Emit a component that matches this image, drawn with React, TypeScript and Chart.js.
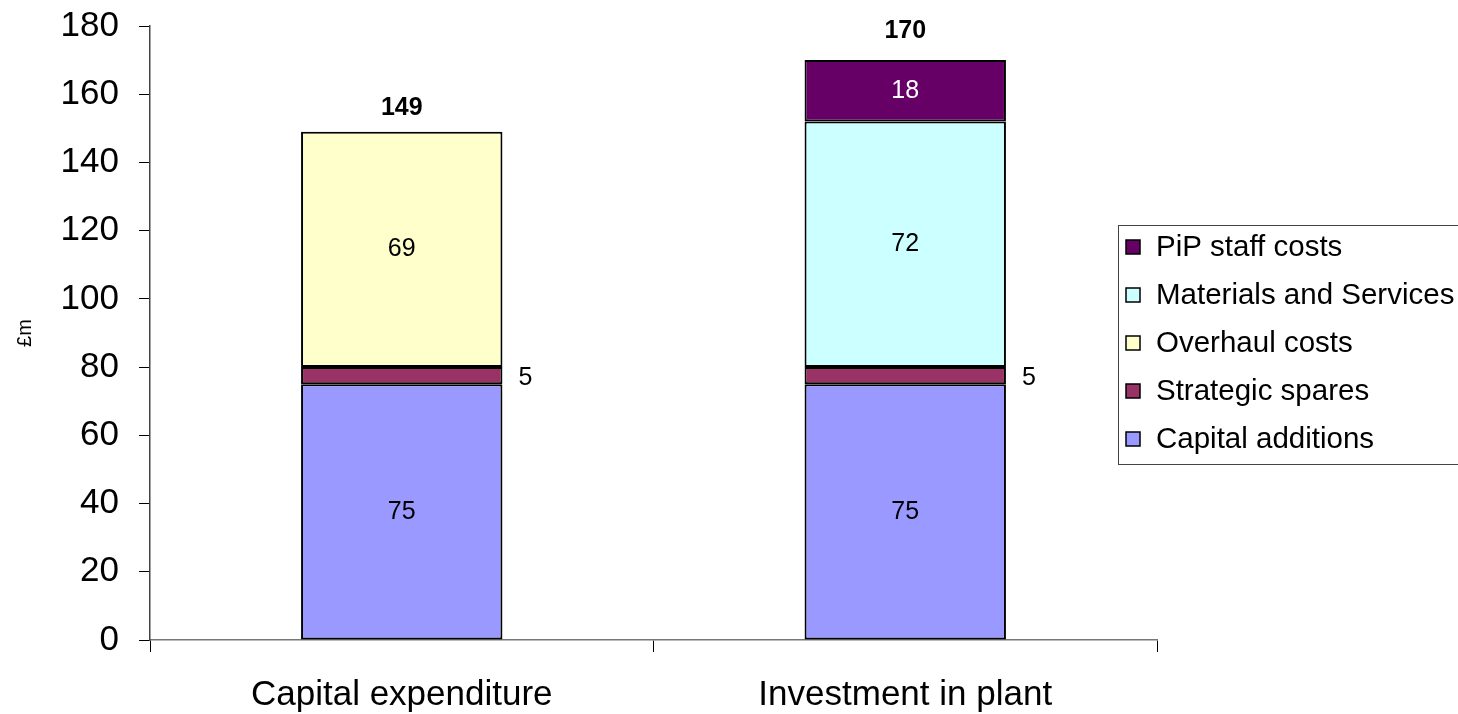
import React, { useEffect, useRef } from "react";
import { Chart, registerables } from "chart.js";

Chart.register(...registerables);

const categories = ["Capital expenditure", "Investment in plant"];
const capitalAdditions = [75, 75];
const strategicSpares = [5, 5];
const overhaulCosts = [69, null];
const materialsAndServices = [null, 72];
const pipStaffCosts = [null, 18];
const totals = [149, 170];
const yTicks = [0, 20, 40, 60, 80, 100, 120, 140, 160, 180];

const FONT = "'Liberation Sans', Arial, sans-serif";

const seriesNames = [
  "Capital additions",
  "Strategic spares",
  "Overhaul costs",
  "Materials and Services",
  "PiP staff costs",
];
const seriesColors = ["#9999FF", "#993366", "#FFFFCC", "#CCFFFF", "#660066"];
const labelColors = ["#000", "#000", "#000", "#000", "#FFF"];

// Gap between each stack top and its total label
const totalLabelGap = [24, 29];

// Segment values, side labels for thin segments, and bold totals above each stack
const valueLabels = {
  id: "valueLabels",
  afterDatasetsDraw(chart: any) {
    const ctx = chart.ctx;
    ctx.save();
    ctx.textAlign = "center";
    ctx.textBaseline = "middle";
    const tops: { y: number; x: number }[] = [];
    chart.data.datasets.forEach((ds: any, di: number) => {
      const meta = chart.getDatasetMeta(di);
      meta.data.forEach((bar: any, i: number) => {
        const v = ds.data[i];
        if (v == null || v === 0) return;
        const p = bar.getProps(["x", "y", "base", "width"], true);
        const cy = (p.y + p.base) / 2;
        ctx.font = `25px ${FONT}`;
        ctx.fillStyle = labelColors[di];
        if (v < 10) {
          ctx.fillStyle = "#000";
          ctx.fillText(String(v), p.x + p.width / 2 + 23, cy + 2);
        } else {
          ctx.fillText(String(v), p.x, cy);
        }
        if (!tops[i] || p.y < tops[i].y) tops[i] = { y: p.y, x: p.x };
      });
    });
    ctx.font = `bold 25px ${FONT}`;
    ctx.fillStyle = "#000";
    tops.forEach((t, i) => {
      if (t) ctx.fillText(String(totals[i]), t.x, t.y - totalLabelGap[i]);
    });
    ctx.restore();
  },
};

// Boxed legend on the right, listed top series first
const boxLegend = {
  id: "boxLegend",
  afterDraw(chart: any) {
    const ctx = chart.ctx;
    ctx.save();
    ctx.strokeStyle = "#444";
    ctx.lineWidth = 1;
    ctx.strokeRect(1118.5, 225.5, 345, 239);
    ctx.font = `29.5px ${FONT}`;
    ctx.textBaseline = "middle";
    ctx.textAlign = "left";
    const n = chart.data.datasets.length;
    for (let k = 0; k < n; k++) {
      const di = n - 1 - k;
      const ds = chart.data.datasets[di];
      const cy = 247 + k * 48;
      ctx.fillStyle = ds.backgroundColor;
      ctx.fillRect(1126, cy - 7, 14, 14);
      ctx.strokeStyle = "#000";
      ctx.lineWidth = 1.5;
      ctx.strokeRect(1126, cy - 7, 14, 14);
      ctx.fillStyle = "#000";
      ctx.fillText(ds.label, 1156, cy + 1);
    }
    ctx.restore();
  },
};

export default function App() {
  const ref = useRef<HTMLCanvasElement | null>(null);

  useEffect(() => {
    if (!ref.current) return;
    const seriesData = [
      capitalAdditions,
      strategicSpares,
      overhaulCosts,
      materialsAndServices,
      pipStaffCosts,
    ];
    const chart = new Chart(ref.current, {
      type: "bar",
      data: {
        labels: categories,
        datasets: seriesData.map((d, i) => ({
          label: seriesNames[i],
          data: d as any,
          backgroundColor: seriesColors[i],
          borderColor: "#000",
          borderWidth: 2,
          borderSkipped: false,
          categoryPercentage: 1,
          barPercentage: 0.4,
        })),
      },
      options: {
        responsive: false,
        devicePixelRatio: 1,
        animation: false,
        layout: { padding: { top: 26, right: 301, left: 0, bottom: 0 } },
        plugins: {
          legend: { display: false },
          tooltip: { enabled: false },
        },
        scales: {
          x: {
            stacked: true,
            offset: true,
            grid: {
              display: true,
              offset: true,
              drawOnChartArea: false,
              drawTicks: true,
              tickLength: 12,
              color: "#000",
            },
            border: { display: true, color: "#777", width: 1.5 },
            ticks: {
              color: "#000",
              padding: 22,
              font: { family: FONT, size: 35 },
              maxRotation: 0,
            },
            afterFit(scale: any) {
              scale.height = 74;
            },
          },
          y: {
            stacked: true,
            min: 0,
            max: 180,
            afterBuildTicks(scale: any) {
              scale.ticks = yTicks.map((v) => ({ value: v }));
            },
            grid: {
              display: true,
              drawOnChartArea: false,
              drawTicks: true,
              tickLength: 11,
              color: "#000",
            },
            border: { display: true, color: "#444", width: 1.5 },
            ticks: {
              color: "#000",
              padding: 20,
              font: { family: FONT, size: 35 },
            },
            title: {
              display: true,
              text: "£m",
              color: "#000",
              font: { family: FONT, size: 20 },
              padding: { top: 13, bottom: 0 },
            },
            afterFit(scale: any) {
              scale.width = 150;
              scale.paddingTop = 0;
              scale.paddingBottom = 0;
            },
          },
        },
      },
      plugins: [valueLabels, boxLegend],
    });
    return () => chart.destroy();
  }, []);

  return (
    <div style={{ position: "fixed", top: 0, left: 0, width: 1458, height: 714, background: "#fff" }}>
      <canvas ref={ref} width={1458} height={714} />
    </div>
  );
}
